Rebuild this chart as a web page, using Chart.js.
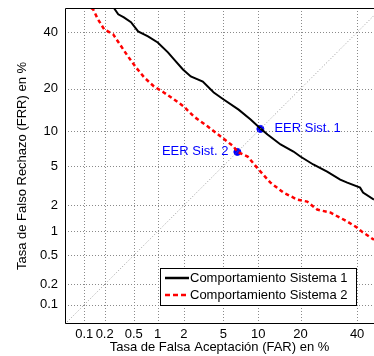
<!DOCTYPE html>
<html>
<head>
<meta charset="utf-8">
<script src="https://cdn.jsdelivr.net/npm/chart.js@4"></script>
<style>
  html, body { margin: 0; padding: 0; background: #fff; overflow: hidden; }
  #wrap { width: 374px; height: 356px; }
  canvas { display: block; }
</style>
</head>
<body>
<div id="wrap"><canvas id="detChart"></canvas></div>
<script>
// Valores en % (FAR, FRR)
const far1 = [0.27, 0.31, 0.37, 0.46, 0.57, 0.76, 1.0, 1.32, 1.55, 1.95, 2.37, 3.16, 4.06, 5.04, 6.87, 8.68, 10.4, 11.8, 14.7, 18.0, 19.95, 23.9, 28.6, 33.4, 36.1, 41.2, 42.4, 46.9];
const frr1 = [50, 47.4, 46.1, 44.1, 40.4, 38.4, 36.0, 32.2, 29.6, 26.1, 23.8, 22.2, 18.96, 17.05, 14.5, 12.3, 10.5, 9.4, 7.76, 6.75, 6.1, 5.16, 4.43, 3.70, 3.45, 3.07, 2.73, 2.30];
const far2 = [0.127, 0.136, 0.16, 0.197, 0.264, 0.34, 0.42, 0.535, 0.68, 0.90, 1.18, 1.55, 1.99, 2.55, 3.55, 4.73, 6.21, 6.7, 8.2, 10.06, 12.42, 15.4, 19.1, 22.0, 25.2, 29.7, 36.1, 40.0, 42.0, 46.9];
const frr2 = [50, 49.4, 45.3, 41.2, 39.2, 34.5, 30.7, 26.8, 23.5, 20.7, 18.96, 17.05, 15.26, 12.93, 10.86, 9.04, 7.46, 6.7, 6.1, 4.63, 3.45, 2.73, 2.30, 2.19, 1.79, 1.66, 1.31, 1.11, 0.99, 0.79];
const eerLabels = ["EER Sist. 1", "EER Sist. 2"];
const eerValues = [10.4, 6.7];
const seriesNames = ["Comportamiento Sistema 1", "Comportamiento Sistema 2"];
const tickValues = [0.1, 0.2, 0.5, 1, 2, 5, 10, 20, 40];
const diagonal = [0.05, 50];

// inversa de la normal (Acklam)
function probit(p) {
    const a = [-39.69683028665376, 220.9460984245205, -275.9285104469687, 138.3577518672690, -30.66479806614716, 2.506628277459239];
    const b = [-54.47609879822406, 161.5858368580409, -155.6989798598866, 66.80131188771972, -13.28068155288572];
    const c = [-0.007784894002430293, -0.3223964580411365, -2.400758277161838, -2.549732539343734, 4.374664141464968, 2.938163982698783];
    const d = [0.007784695709041462, 0.3224671290700398, 2.445134137142996, 3.754408661907416];
    const plow = 0.02425;
    let q, r;
    if (p < plow) {
        q = Math.sqrt(-2 * Math.log(p));
        return (((((c[0]*q+c[1])*q+c[2])*q+c[3])*q+c[4])*q+c[5]) / ((((d[0]*q+d[1])*q+d[2])*q+d[3])*q+1);
    }
    if (p <= 1 - plow) {
        q = p - 0.5; r = q * q;
        return (((((a[0]*r+a[1])*r+a[2])*r+a[3])*r+a[4])*r+a[5])*q / (((((b[0]*r+b[1])*r+b[2])*r+b[3])*r+b[4])*r+1);
    }
    q = Math.sqrt(-2 * Math.log(1 - p));
    return -(((((c[0]*q+c[1])*q+c[2])*q+c[3])*q+c[4])*q+c[5]) / ((((d[0]*q+d[1])*q+d[2])*q+d[3])*q+1);
}
const pct = v => probit(v / 100);
const toPoints = (xs, ys) => xs.map((x, i) => ({ x: pct(x), y: pct(ys[i]) }));

const font = { family: "'Liberation Sans', Arial, sans-serif", size: 13 };

const probitTicks = scale => { scale.ticks = tickValues.map(v => ({ value: pct(v) })); };

// rejilla punteada
const grid = {
    id: "grid",
    beforeDatasetsDraw(chart) {
        const { ctx, chartArea: ca, scales: { x, y } } = chart;
        ctx.save();
        ctx.strokeStyle = "#8a8a8a"; ctx.lineWidth = 1; ctx.setLineDash([1, 2]);
        tickValues.forEach(v => {
            const px = Math.round(x.getPixelForValue(pct(v))) + 0.5;
            const py = Math.round(y.getPixelForValue(pct(v))) + 0.5;
            ctx.beginPath(); ctx.moveTo(px, ca.top); ctx.lineTo(px, ca.bottom); ctx.stroke();
            ctx.beginPath(); ctx.moveTo(ca.left, py); ctx.lineTo(ca.right, py); ctx.stroke();
        });
        ctx.restore();
    }
};

// bordes, etiquetas EER y leyenda
const extras = {
    id: "extras",
    afterDatasetsDraw(chart) {
        const { ctx, chartArea: ca, scales: { x, y } } = chart;
        ctx.save();
        ctx.strokeStyle = "#000"; ctx.lineWidth = 1;
        ctx.beginPath();
        ctx.moveTo(ca.right, ca.top + 0.5); ctx.lineTo(ca.left + 0.5, ca.top + 0.5);
        ctx.lineTo(ca.left + 0.5, ca.bottom - 0.5); ctx.lineTo(ca.right, ca.bottom - 0.5);
        ctx.stroke();

        ctx.font = "13px " + font.family;
        ctx.fillStyle = "#0000ff"; ctx.textBaseline = "middle";
        ctx.textAlign = "left";
        ctx.fillText(eerLabels[0], x.getPixelForValue(pct(eerValues[0])) + 14, y.getPixelForValue(pct(eerValues[0])));
        ctx.textAlign = "right";
        ctx.fillText(eerLabels[1], x.getPixelForValue(pct(eerValues[1])) - 9, y.getPixelForValue(pct(eerValues[1])));

        // leyenda
        const bx = ca.left + 95, by = ca.bottom - 56, bw = 196, bh = 37;
        ctx.fillStyle = "#fff"; ctx.fillRect(bx, by, bw, bh);
        ctx.strokeStyle = "#000"; ctx.lineWidth = 1;
        ctx.strokeRect(bx + 0.5, by + 0.5, bw, bh);
        const styles = [{ c: "#000", w: 2.5, dash: [] }, { c: "#ff0000", w: 2.5, dash: [5, 3] }];
        styles.forEach((s, i) => {
            const ly = by + 10 + i * 17;
            ctx.strokeStyle = s.c; ctx.lineWidth = s.w; ctx.setLineDash(s.dash);
            ctx.beginPath(); ctx.moveTo(bx + 5, ly); ctx.lineTo(bx + 29, ly); ctx.stroke();
            ctx.setLineDash([]);
            ctx.fillStyle = "#000"; ctx.textAlign = "left";
            ctx.fillText(seriesNames[i], bx + 30, ly);
        });
        ctx.restore();
    }
};

new Chart(document.getElementById("detChart").getContext("2d"), {
    type: "scatter",
    data: {
        datasets: [
            { data: toPoints(diagonal, diagonal), showLine: true, borderColor: "#999", borderWidth: 1, borderDash: [1, 2], pointRadius: 0 },
            { data: toPoints(far2, frr2), showLine: true, borderColor: "#ff0000", borderWidth: 2.5, borderDash: [4, 3], pointRadius: 0 },
            { data: toPoints(far1, frr1), showLine: true, borderColor: "#000", borderWidth: 2, pointRadius: 0 },
            { data: toPoints(eerValues, eerValues), pointRadius: 3.5, pointBackgroundColor: "#0000ff", pointBorderColor: "#0000ff" }
        ]
    },
    options: {
        responsive: true,
        maintainAspectRatio: false,
        animation: false,
        layout: { autoPadding: false, padding: { top: 8, right: 0, left: 0, bottom: 0 } },
        plugins: { legend: { display: false }, tooltip: { enabled: false } },
        scales: {
            x: {
                type: "linear", min: pct(0.05), max: pct(46.9),
                afterBuildTicks: probitTicks,
                afterFit: s => { s.height = 32; s.paddingLeft = 0; s.paddingRight = 0; },
                grid: { display: false, drawTicks: false },
                border: { display: false },
                ticks: { autoSkip: false, maxRotation: 0, padding: 3, color: "#000", font, callback: (v, i) => tickValues[i] },
                title: { display: true, text: "Tasa de Falsa Aceptación (FAR) en %", color: "#000", font, padding: { top: 0, bottom: 1 } }
            },
            y: {
                type: "linear", min: pct(0.05), max: 0,
                afterBuildTicks: probitTicks,
                afterFit: s => { s.width = 65; s.paddingTop = 0; s.paddingBottom = 0; },
                grid: { display: false, drawTicks: false },
                border: { display: false },
                ticks: { autoSkip: false, padding: 7, color: "#000", font, callback: (v, i) => tickValues[i] },
                title: { display: true, text: "Tasa de Falso Rechazo (FRR) en %", color: "#000", font, padding: { top: 15, bottom: 0 } }
            }
        }
    },
    plugins: [grid, extras]
});
</script>
</body>
</html>
